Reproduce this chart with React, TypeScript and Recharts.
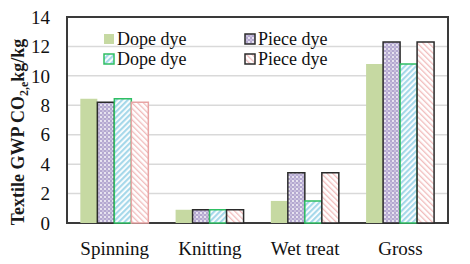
import { Bar, BarChart, CartesianGrid, Cell, XAxis, YAxis, usePlotArea } from "recharts"

const categories = ["Spinning", "Knitting", "Wet treat", "Gross"]
const dopeDye = [8.45, 0.9, 1.5, 10.8]
const pieceDye = [8.2, 0.9, 3.42, 12.3]
const dopeDyeAlt = [8.45, 0.9, 1.5, 10.8]
const pieceDyeAlt = [8.2, 0.9, 3.42, 12.3]
const yTicks = [0, 2, 4, 6, 8, 10, 12, 14]
const seriesNames = ["Dope dye", "Piece dye", "Dope dye", "Piece dye"]

const data = categories.map((name, i) => ({
  name,
  dope: dopeDye[i],
  piece: pieceDye[i],
  dope2: dopeDyeAlt[i],
  piece2: pieceDyeAlt[i],
}))

const font = "Liberation Serif, Times New Roman, serif"

// swatch styles, shared by bars and legend
const swatches = [
  { fill: "#c6d9a2", stroke: "none" },
  { fill: "url(#dots)", stroke: "#2b2b2b" },
  { fill: "url(#blueStripe)", stroke: "#2fbf63" },
  { fill: "url(#pinkStripe)", stroke: "#2b2b2b" },
]

function Frame() {
  const p = usePlotArea()
  if (!p) return null
  return <rect x={p.x} y={p.y} width={p.width} height={p.height} fill="none" stroke="#3a3a3a" strokeWidth={2} />
}

function Patterns() {
  return (
    <defs>
      <pattern id="dots" width="4" height="4" patternUnits="userSpaceOnUse">
        <rect width="4" height="4" fill="#b4a8d0" />
        <circle cx="1" cy="1" r="0.9" fill="#ffffff" />
        <circle cx="3" cy="3" r="0.7" fill="#ece8f4" />
      </pattern>
      <pattern id="blueStripe" width="4" height="4" patternUnits="userSpaceOnUse" patternTransform="rotate(45)">
        <rect width="4" height="4" fill="#ffffff" />
        <rect width="2.2" height="4" fill="#a6d8ea" />
      </pattern>
      <pattern id="pinkStripe" width="4" height="4" patternUnits="userSpaceOnUse" patternTransform="rotate(-45)">
        <rect width="4" height="4" fill="#ffffff" />
        <rect width="1.3" height="4" fill="#f1bcbc" />
      </pattern>
    </defs>
  )
}

function LegendBox() {
  const pos = [
    { left: 103, top: 30 },
    { left: 244, top: 30 },
    { left: 103, top: 50 },
    { left: 244, top: 50 },
  ]
  return (
    <>
      {seriesNames.map((n, i) => (
        <div
          key={i}
          style={{
            position: "absolute",
            left: pos[i].left,
            top: pos[i].top,
            height: 18,
            display: "flex",
            alignItems: "center",
            fontFamily: font,
            fontSize: 18,
            lineHeight: "18px",
            color: "#111",
          }}
        >
          <svg width={12} height={12} style={{ marginRight: 2 }}>
            <rect
              x={1}
              y={1}
              width={10}
              height={10}
              fill={swatches[i].fill}
              stroke={swatches[i].stroke}
              strokeWidth={1.5}
            />
          </svg>
          <span>{n}</span>
        </div>
      ))}
    </>
  )
}

export default function App() {
  return (
    <div style={{ position: "absolute", left: 0, top: 0, width: 470, height: 264, background: "#fff", fontFamily: font }}>
      <BarChart
        width={470}
        height={264}
        data={data}
        margin={{ top: 17, right: 22, bottom: 0, left: 0 }}
        barCategoryGap="14%"
        barGap={0}
        style={{ fontFamily: font }}
      >
        <Patterns />
        <CartesianGrid vertical={false} stroke="#d9d9d9" strokeWidth={1.5} />
        <XAxis
          dataKey="name"
          height={41}
          tickLine={false}
          axisLine={false}
          tick={{ fill: "#111", fontSize: 19, fontFamily: font }}
          tickMargin={13}
        />
        <YAxis
          width={67}
          domain={[0, 14]}
          ticks={yTicks}
          tickLine={false}
          axisLine={false}
          tickSize={0}
          tickMargin={17}
          tick={{ fill: "#111", fontSize: 19, fontFamily: font }}
        />
        <Bar dataKey="dope" fill={swatches[0].fill} isAnimationActive={false} />
        <Bar dataKey="piece" fill={swatches[1].fill} stroke={swatches[1].stroke} strokeWidth={1.5} isAnimationActive={false} />
        <Bar dataKey="dope2" fill={swatches[2].fill} stroke={swatches[2].stroke} strokeWidth={1.5} isAnimationActive={false} />
        <Bar dataKey="piece2" fill={swatches[3].fill} isAnimationActive={false}>
          {data.map((d, i) => (
            <Cell key={d.name} stroke={i === 0 ? "#e8a4a4" : swatches[3].stroke} strokeWidth={1.5} />
          ))}
        </Bar>
        <Frame />
        <text
          transform="translate(24,132) rotate(-90)"
          textAnchor="middle"
          fontFamily={font}
          fontWeight="bold"
          fontSize={18}
          fill="#1a1a1a"
        >
          Textile GWP CO
          <tspan fontSize={12} dy={4}>2,e</tspan>
          <tspan dy={-4}>kg/kg</tspan>
        </text>
      </BarChart>
      <LegendBox />
    </div>
  )
}
